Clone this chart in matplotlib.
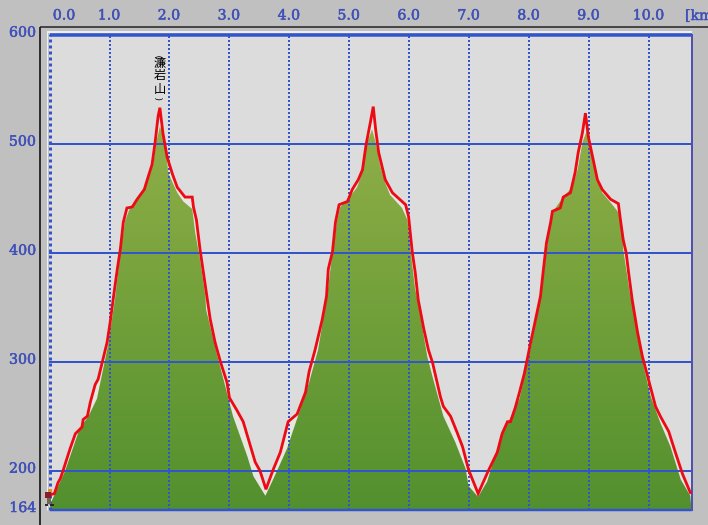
import numpy as np
import matplotlib
matplotlib.use("Agg")
import matplotlib.pyplot as plt
import matplotlib.patheffects as pe
from matplotlib.colors import LinearSegmentedColormap
from matplotlib.lines import Line2D
from matplotlib.patches import Polygon, Rectangle

route_km = [.01,.08,.14,.18,.23,.34,.43,.54,.56,.63,.68,.76,.81,.88,.96,1.01,1.06,1.13,1.18,1.23,1.29,1.38,1.46,1.58,1.63,1.71,1.76,1.81,1.84,1.89,1.96,2.05,2.13,2.26,2.38,2.40,2.45,2.51,2.60,2.63,2.68,2.76,2.85,2.96,3.00,3.13,3.23,3.35,3.43,3.51,3.61,3.73,3.85,3.98,4.13,4.27,4.33,4.43,4.55,4.62,4.65,4.72,4.77,4.83,4.97,5.05,5.15,5.22,5.28,5.35,5.40,5.44,5.49,5.60,5.72,5.94,5.99,6.05,6.10,6.15,6.24,6.32,6.39,6.52,6.57,6.69,6.80,6.89,6.99,7.15,7.32,7.47,7.55,7.64,7.69,7.77,7.84,7.92,8.02,8.09,8.19,8.24,8.29,8.36,8.39,8.52,8.57,8.69,8.77,8.82,8.89,8.94,8.99,9.06,9.14,9.22,9.36,9.49,9.52,9.57,9.62,9.66,9.72,9.81,9.89,9.99,10.11,10.19,10.33,10.44,10.56,10.69]
route_m = [178,179,189,193,201,220,234,240,247,250,263,279,284,300,318,336,357,385,403,428,441,442,449,458,467,481,501,525,533,510,488,472,460,451,451,442,430,403,369,357,339,318,300,281,267,255,245,223,208,200,183,201,217,245,252,272,291,311,339,360,385,401,428,444,447,458,467,476,499,519,534,513,492,467,455,444,433,401,382,357,331,311,299,268,259,250,235,222,201,179,200,217,234,245,245,258,272,289,316,334,360,385,409,428,438,441,451,455,474,492,510,528,506,488,467,458,449,445,432,412,400,382,357,327,305,284,259,250,236,217,197,180]

ground_km = [.01,.09,.26,.51,.64,.79,.98,1.09,1.19,1.26,1.34,1.48,1.59,1.73,1.78,1.84,1.93,1.98,2.13,2.23,2.38,2.43,2.51,2.60,2.61,2.80,2.90,3.06,3.30,3.40,3.60,3.73,3.96,4.18,4.33,4.48,4.63,4.72,4.80,4.85,4.98,5.13,5.22,5.30,5.38,5.44,5.52,5.60,5.68,5.88,5.97,6.02,6.10,6.14,6.30,6.40,6.57,6.77,6.94,6.99,7.15,7.30,7.52,7.84,8.02,8.19,8.31,8.39,8.44,8.57,8.72,8.81,8.89,8.97,9.02,9.11,9.22,9.39,9.49,9.56,9.57,9.69,9.72,9.91,10.03,10.19,10.36,10.53,10.69,10.71]
ground_m = [169,179,200,240,249,266,316,357,403,429,441,449,458,481,501,516,501,473,455,447,440,418,394,360,348,305,284,250,213,195,177,192,220,256,281,311,360,400,430,442,449,460,474,501,513,501,479,464,453,441,430,403,366,357,305,284,250,226,202,186,176,190,229,266,311,357,409,437,441,451,460,476,501,513,495,473,455,444,437,418,403,360,357,296,268,244,222,192,177,164]

km_ticks = [0, 1, 2, 3, 4, 5, 6, 7, 8, 9, 10]
km_labels = ["0.0", "1.0", "2.0", "3.0", "4.0", "5.0", "6.0", "7.0", "8.0", "9.0", "10.0"]
m_ticks = [600, 500, 400, 300, 200, 164]
m_labels = ["600", "500", "400", "300", "200", "164"]
peak_km = 1.84
peak_name = ["濂", "岩", "山"]

W, H = 708, 525
BG, PLOT, BLUE, TXT, RED = "#c0c0c0", "#dcdcdc", "#3355cc", "#3f50b8", "#ee0a14"
px = 0.72  # points per pixel at dpi 100

fig = plt.figure(figsize=(W / 100, H / 100), dpi=100, facecolor=BG)
ax = fig.add_axes([49 / W, 1 - 510 / H, 642.5 / W, 476 / H], facecolor=PLOT)
ax.set_xlim(-0.01, 10.71)
ax.set_ylim(164, 600.6)
for s in ax.spines.values():
    s.set_visible(False)
ax.set_xticks([])
ax.set_yticks([])

# Light band between ground profile and route trace
ax.add_patch(Polygon(np.column_stack([route_km + ground_km[::-1], route_m + ground_m[::-1]]),
                     closed=True, fc="#e7e7e2", ec="none", zorder=1))

# Ground profile with vertical gradient
poly = Polygon(np.column_stack([[ground_km[0]] + ground_km + [ground_km[-1]],
                                [164] + ground_m + [164]]),
               closed=True, fc="none", ec="none", transform=ax.transData)
ax.add_patch(poly)
cmap = LinearSegmentedColormap.from_list("g", ["#93b04a", "#72a03a", "#52902e"])
grad = np.linspace(0, 1, 256).reshape(-1, 1)
im = ax.imshow(grad, cmap=cmap, extent=[-0.01, 10.71, 164, 530], aspect="auto", zorder=2, origin="upper")
im.set_clip_path(poly)
ax.set_xlim(-0.01, 10.71)
ax.set_ylim(164, 600.6)

# Grid
for k in km_ticks:
    lw = 3 * px if k == 0 else 2 * px
    ax.axvline(k, color=BLUE, lw=lw, ls=(0, (1, 1)), zorder=3, clip_on=False)
for m in m_ticks:
    if m in (600, 164):
        continue
    ax.axhline(m, color=BLUE, lw=2 * px, zorder=3)
ax.plot([0, 10.71], [600, 600], color=BLUE, lw=3.5 * px, zorder=3, solid_capstyle="butt", clip_on=False)
ax.plot([0, 10.71], [164, 164], color=BLUE, lw=2.5 * px, zorder=3, solid_capstyle="butt", clip_on=False)
ax.plot([10.71, 10.71], [164, 600], color="#5050b0", lw=2 * px, zorder=3, clip_on=False)

# Route trace
ax.plot(route_km, route_m, color=RED, lw=2.8 * px, zorder=4, solid_joinstyle="miter")

# Frame lines
def fline(xs, ys, color, lw):
    fig.add_artist(Line2D([x / W for x in xs], [1 - y / H for y in ys], color=color, lw=lw * px,
                          transform=fig.transFigure, solid_capstyle="butt"))
fline([40, 40], [27, 525], "#000000", 1.5)
fline([40, W], [27, 27], "#202020", 1.5)
fline([47, 692], [32, 32], "#ffffff", 1.5)
fline([47, 47], [32, 510], "#f0f0f0", 1)

# Axis labels
stroke = [pe.withStroke(linewidth=0.35, foreground=TXT)]
font = dict(family="DejaVu Serif", color=TXT, fontsize=10.2, path_effects=stroke)
for k, lab in zip(km_ticks, km_labels):
    dx = 14.5 if k == 0 else -0.5
    ax.annotate(lab, xy=(k, 1), xycoords=ax.get_xaxis_transform(),
                xytext=(dx * px, 18.5 * px), textcoords="offset points",
                ha="center", va="center", annotation_clip=False, **font)
fig.text(685 / W, 1 - 16 / H, "[km", ha="left", va="center", **font)
for m, lab in zip(m_ticks, m_labels):
    ax.annotate(lab, xy=(0, m), xycoords=ax.get_yaxis_transform(),
                xytext=(-13 * px, 2 * px), textcoords="offset points",
                ha="right", va="center", annotation_clip=False, **font)

# Peak name, stacked vertically above the summit
cjk = dict(family=["Noto Sans CJK JP", "DejaVu Sans"], color="black", fontsize=8.8,
           ha="center", va="center", annotation_clip=False)
tops = [63, 76, 90]
for ch, yy in zip(peak_name, tops):
    ax.annotate(ch, xy=(peak_km, 1), xycoords=ax.get_xaxis_transform(),
                xytext=(0, (34 - yy) * px), textcoords="offset points", **cjk)
for s, yy in ((")", 56), ("(", 98)):
    ax.annotate(s, xy=(peak_km, 1), xycoords=ax.get_xaxis_transform(), rotation=90,
                xytext=(0, (34 - yy) * px), textcoords="offset points",
                family="DejaVu Sans", color="black", fontsize=6.5, ha="center", va="center",
                annotation_clip=False, zorder=6)

# Hiker icon
for (x0, y0, w, h, c) in [(48, 489, 4, 3, "#e09030"), (45, 492, 6, 6, "#8c1c28"),
                          (47, 498, 4, 6, "#6f6650"), (45, 504, 3, 2, "#302820"), (50, 504, 4, 2, "#302820")]:
    fig.add_artist(Rectangle((x0 / W, 1 - (y0 + h) / H), w / W, h / H, fc=c, ec="none",
                             transform=fig.transFigure, zorder=10))

fig.savefig("out.png", dpi=100, facecolor=BG)
